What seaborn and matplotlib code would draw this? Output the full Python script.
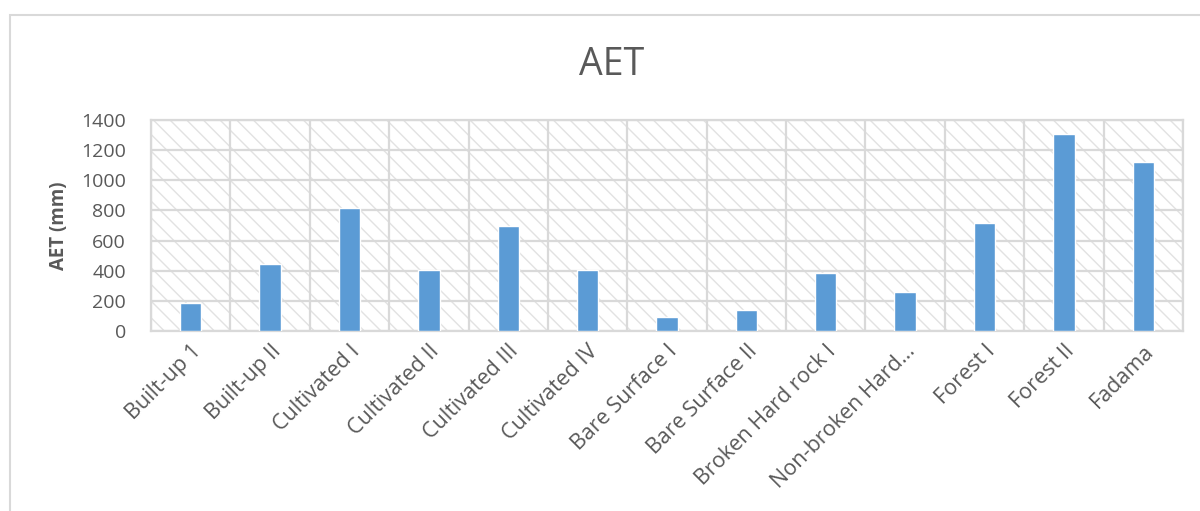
import matplotlib.pyplot as plt
import matplotlib.patches as mpatches
import pandas as pd
import seaborn as sns

# Land cover classes and actual evapotranspiration (mm)
classes = [
    "Built-up 1", "Built-up II", "Cultivated I", "Cultivated II",
    "Cultivated III", "Cultivated IV", "Bare Surface I", "Bare Surface II",
    "Broken Hard rock I", "Non-broken Hard\u2026", "Forest I", "Forest II",
    "Fadama",
]
aet = [185, 443, 816, 407, 698, 407, 91, 138, 383, 258, 718, 1307, 1121]
yticks = [0, 200, 400, 600, 800, 1000, 1200, 1400]

df = pd.DataFrame({"cls": classes, "aet": aet})

sns.set_style("white")
plt.rcParams["font.family"] = ["Open Sans", "DejaVu Sans"]
plt.rcParams["hatch.linewidth"] = 1.0

grid_col = "#d9d9d9"
text_col = "#595959"

fig = plt.figure(figsize=(12, 5.11), dpi=100)
ax = fig.add_axes([151 / 1200, 1 - 331 / 511, 1032 / 1200, 211 / 511])

# hatched plot-area background
bg = mpatches.Rectangle((0, 0), 1, 1, transform=ax.transAxes, facecolor="white",
                        edgecolor="#e2e2e2", hatch="\\\\", linewidth=0, zorder=0)
ax.add_patch(bg)

sns.barplot(data=df, x="cls", y="aet", color="#5b9bd5", width=0.27,
            saturation=1, ax=ax, zorder=3)

ax.set_ylim(0, 1400)
ax.set_xlim(-0.5, len(classes) - 0.5)
ax.set_yticks(yticks)
ax.set_xticks([i - 0.5 for i in range(len(classes) + 1)], minor=True)
ax.grid(axis="y", which="major", color=grid_col, linewidth=1.6, zorder=1)
ax.grid(axis="x", which="minor", color=grid_col, linewidth=1.6, zorder=1)
ax.set_axisbelow(False)
for sp in ax.spines.values():
    sp.set_color(grid_col)
    sp.set_linewidth(1.6)

ax.tick_params(axis="both", which="both", length=0, colors=text_col)
ax.tick_params(axis="y", pad=18, labelsize=14)
ax.tick_params(axis="x", pad=7, labelsize=15.5)
plt.setp(ax.get_xticklabels(), rotation=45, ha="right", rotation_mode="anchor")
ax.set_xlabel("")
ax.set_ylabel("AET (mm)", fontsize=13.5, fontweight="bold", color=text_col, labelpad=9)

fig.text(612 / 1200, 1 - 65 / 511, "AET", ha="center", va="center",
         fontsize=27, color=text_col)

# chart-area border (cropped on right and bottom)
border = mpatches.Rectangle((10 / 1200, -0.2), 1.5, 1.2 - 15 / 511,
                            transform=fig.transFigure, fill=False,
                            edgecolor=grid_col, linewidth=1.5)
fig.patches.append(border)

fig.savefig("out.png", dpi=100)
